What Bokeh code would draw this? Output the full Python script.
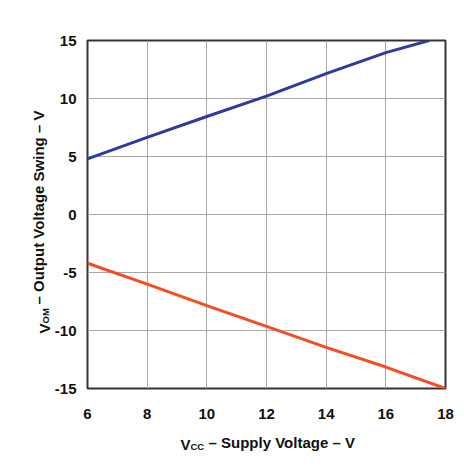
from math import pi

from bokeh.embed import file_html
from bokeh.models import ColumnDataSource, FixedTicker, Label, Range1d
from bokeh.plotting import figure
from bokeh.resources import INLINE

# Supply voltage (V) and the measured output swing limits (V)
vcc_high = [6, 8, 10, 12, 14, 16, 17.45]
vom_high = [4.8, 6.65, 8.45, 10.2, 12.15, 13.95, 15.0]

vcc_low = [6, 8, 10, 12, 14, 16, 18]
vom_low = [-4.2, -6.0, -7.85, -9.65, -11.45, -13.15, -15.0]

x_ticks = [6, 8, 10, 12, 14, 16, 18]
y_ticks = [-15, -10, -5, 0, 5, 10, 15]
y_tick_labels = ["-15", "-10", "-5", "0", "5", "10", "15"]

FONT = "Liberation Sans"

p = figure(
    width=464,
    height=466,
    output_backend="svg",
    toolbar_location=None,
    x_range=Range1d(6, 18),
    y_range=Range1d(-15, 15),
    min_border_left=87,
    min_border_right=19,
    min_border_top=40,
    min_border_bottom=78,
    background_fill_color="white",
    border_fill_color="white",
)

# frame and grid
p.outline_line_color = "#333333"
p.outline_line_width = 2
p.xgrid.grid_line_color = "#a8a8a8"
p.ygrid.grid_line_color = "#a8a8a8"
p.xgrid.grid_line_width = 1
p.ygrid.grid_line_width = 1

p.xaxis.ticker = FixedTicker(ticks=x_ticks)
p.yaxis.ticker = FixedTicker(ticks=y_ticks)
p.yaxis.major_label_overrides = {t: s for t, s in zip(y_ticks, y_tick_labels)}
p.xaxis.major_label_overrides = {t: str(t) for t in x_ticks}

for ax in (p.xaxis, p.yaxis):
    ax.axis_line_color = None
    ax.major_tick_line_color = None
    ax.minor_tick_line_color = None
    ax.major_label_text_font = FONT
    ax.major_label_text_font_style = "bold"
    ax.major_label_text_font_size = "15px"
    ax.major_label_text_color = "#111111"

p.xaxis.major_label_standoff = 14
p.yaxis.major_label_standoff = 5

# output swing curves
src_high = ColumnDataSource(dict(x=vcc_high, y=vom_high))
src_low = ColumnDataSource(dict(x=vcc_low, y=vom_low))
p.line("x", "y", source=src_high, line_color="#2e3b9e", line_width=3)
p.line("x", "y", source=src_low, line_color="#f24e22", line_width=3)


def title_piece(text, x, y, size, angle=0.0):
    # each piece sits in its own slot of a side panel; offsets are slot-relative
    return Label(
        x=x, y=y, x_units="screen", y_units="screen",
        text=text, angle=angle,
        text_font=FONT, text_font_style="bold",
        text_font_size=size, text_color="#111111",
        text_align="left", text_baseline="alphabetic",
    )


# x axis title: V_CC – Supply Voltage – V
p.add_layout(title_piece("V", 93, -6, "15px"), "below")
p.add_layout(title_piece("CC", 103, 3, "9.5px"), "below")
p.add_layout(title_piece("\u2013 Supply Voltage \u2013 V", 121, 24, "15px"), "below")

# y axis title: V_OM – Output Voltage Swing – V
p.add_layout(title_piece("V", 10, 55, "15px", pi / 2), "left")
p.add_layout(title_piece("OM", 22, 65, "9.5px", pi / 2), "left")
p.add_layout(title_piece("\u2013 Output Voltage Swing \u2013 V", 32, 84, "15px", pi / 2), "left")

open("out.html", "w").write(file_html(p, INLINE))
